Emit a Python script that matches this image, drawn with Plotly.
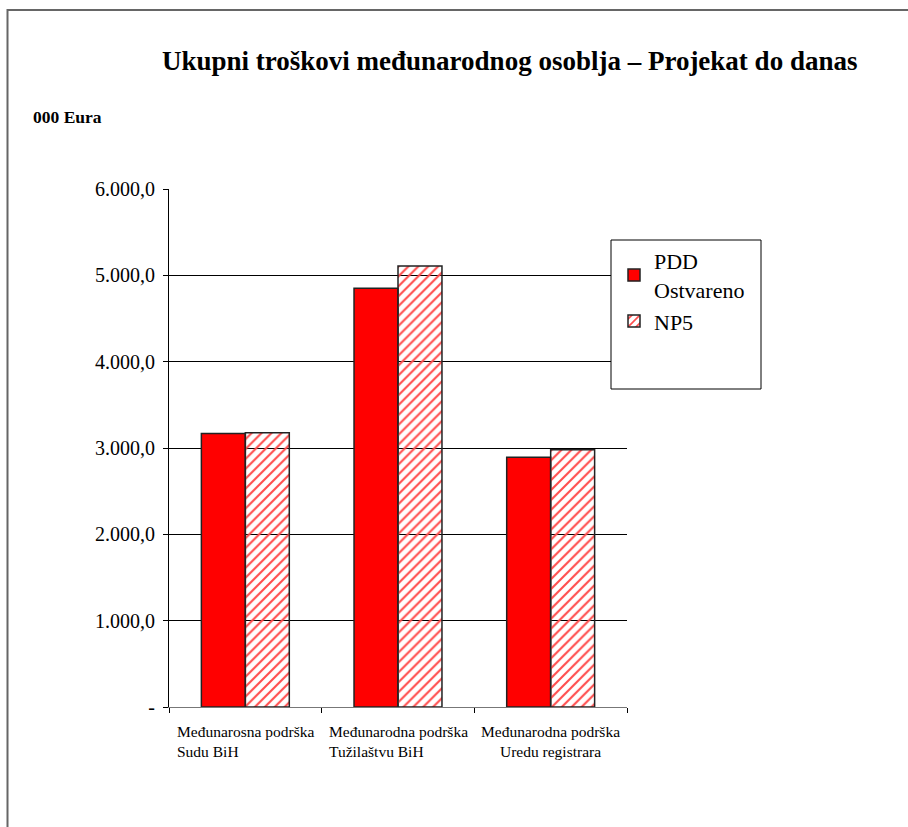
import plotly.graph_objects as go

categories = ["Međunarosna podrška<br>Sudu BiH",
              "Međunarodna podrška<br>Tužilaštvu BiH",
              "Međunarodna podrška<br>Uredu registrara"]
cat_ids = ["c1", "c2", "c3"]
pdd_ostvareno = [3169, 4851, 2892]
np5 = [3178, 5109, 2981]
ytick_vals = [0, 1000, 2000, 3000, 4000, 5000, 6000]
ytick_text = ["-", "1.000,0", "2.000,0", "3.000,0", "4.000,0", "5.000,0", "6.000,0"]

FONT = "Times New Roman, Liberation Serif, DejaVu Serif, serif"

fig = go.Figure()
fig.add_trace(go.Bar(
    x=cat_ids, y=pdd_ostvareno, name="PDD<br>Ostvareno", legendgroup="g1",
    marker=dict(color="#ff0000", line=dict(color="#222222", width=1.5)),
))
fig.add_trace(go.Bar(
    x=cat_ids, y=np5, name="NP5", legendgroup="g2",
    marker=dict(color="white", line=dict(color="#222222", width=1.5),
                pattern=dict(shape="/", fgcolor="#ff4d4d", size=7, solidity=0.3,
                             fillmode="replace")),
))

L, R, T, B = 169, 281, 189, 120
W, H = 908, 827
pw, ph = W - L - R, H - T - B

def px(x):
    return (x - L) / pw

def py(y):
    return (H - B - y) / ph

shapes = [
    dict(type="rect", xref="paper", yref="paper",
         x0=px(7.5), x1=px(960), y0=py(10), y1=py(900),
         line=dict(color="#666666", width=2), fillcolor="rgba(0,0,0,0)", layer="below"),
    dict(type="rect", xref="paper", yref="paper",
         x0=px(611), x1=px(761), y0=py(389), y1=py(240),
         line=dict(color="black", width=1), fillcolor="white", layer="above"),
]

annotations = [
    dict(text="<b>Ukupni troškovi međunarodnog osoblja – Projekat do danas</b>",
         xref="paper", yref="paper", x=px(509), y=py(61), xanchor="center", yanchor="middle",
         showarrow=False, font=dict(family=FONT, size=27, color="black")),
    dict(text="<b>000 Eura</b>", xref="paper", yref="paper", x=px(31), y=py(117),
         xanchor="left", yanchor="middle", showarrow=False,
         font=dict(family=FONT, size=17.5, color="black")),
]
aligns = ["left", "left", "center"]
for i, (cid, lab) in enumerate(zip(cat_ids, categories)):
    annotations.append(dict(text=lab, x=cid, xref="x", yref="paper", y=py(721),
                            xanchor="center", yanchor="top", align=aligns[i],
                            showarrow=False,
                            font=dict(family=FONT, size=15.5, color="black")))

fig.update_layout(
    width=W, height=H,
    margin=dict(l=L, r=R, t=T, b=B, pad=0),
    paper_bgcolor="white", plot_bgcolor="white",
    barmode="group", bargap=0.424, bargroupgap=0,
    font=dict(family=FONT, color="black"),
    showlegend=True,
    legend=dict(x=px(614), y=py(240), xanchor="left", yanchor="top",
                bgcolor="rgba(0,0,0,0)", borderwidth=0,
                font=dict(family=FONT, size=22, color="black"),
                tracegroupgap=8, traceorder="normal"),
    shapes=shapes,
    annotations=annotations,
)
fig.update_xaxes(showticklabels=False, ticks="outside", tickson="boundaries",
                 ticklen=5, tickcolor="black", showline=True, linecolor="#777777",
                 linewidth=1, showgrid=False, fixedrange=True)
fig.update_yaxes(range=[0, 6000], tickmode="array", tickvals=ytick_vals, ticktext=ytick_text,
                 ticks="outside", ticklen=5, tickcolor="black", showline=True,
                 linecolor="black", linewidth=1, showgrid=True, gridcolor="black",
                 gridwidth=1, zeroline=False, tickfont=dict(family=FONT, size=20),
                 ticklabelstandoff=4)

fig.write_html("out.html", config={"displayModeBar": False},
               post_script="document.body.style.margin='0';document.body.style.overflow='hidden';")
